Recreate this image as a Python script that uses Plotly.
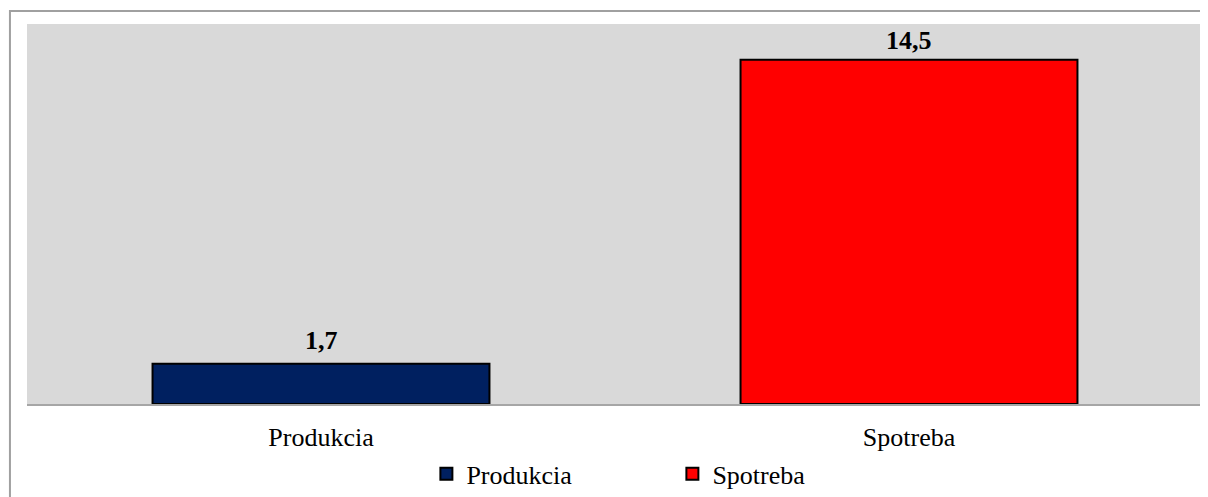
import plotly.graph_objects as go

categories = ["Produkcia", "Spotreba"]
values = [1.7, 14.5]
series_names = ["Produkcia", "Spotreba"]
colors = ["#002060", "#FF0000"]

FONT = "Liberation Serif, Times New Roman, serif"
label_shift = {"Produkcia": 7, "Spotreba": 3}

fig = go.Figure()
for cat, val, name, col in zip(categories, values, series_names, colors):
    fig.add_trace(go.Bar(
        x=[cat], y=[val], name=name,
        marker=dict(color=col, line=dict(color="black", width=2)),
        width=0.573,
        hoverinfo="skip",
    ))
    fig.add_annotation(
        x=cat, y=val, xref="x", yref="y",
        text="<b>" + f"{val:.1f}".replace(".", ",") + "</b>",
        showarrow=False, yanchor="bottom", yshift=label_shift[cat],
        font=dict(family=FONT, size=26, color="black"),
    )

fig.update_layout(
    width=1200, height=489,
    margin=dict(l=19, r=5, t=16, b=93, autoexpand=False),
    paper_bgcolor="white",
    plot_bgcolor="#D9D9D9",
    barmode="overlay",
    showlegend=True,
    legend=dict(
        orientation="h", x=0.5488, xanchor="center", y=-0.184, yanchor="middle",
        font=dict(family=FONT, size=26, color="black"),
        entrywidth=201,
        bgcolor="rgba(0,0,0,0)",
    ),
    font=dict(family=FONT, size=26, color="black"),
    xaxis=dict(
        showgrid=False, showline=True, linecolor="#A6A6A6", linewidth=2,
        ticks="outside", ticklen=9, tickcolor="rgba(0,0,0,0)",
        tickfont=dict(family=FONT, size=26, color="black"),
        fixedrange=True,
    ),
    yaxis=dict(
        range=[0, 16], showgrid=False, showticklabels=False, zeroline=False,
        showline=False, fixedrange=True,
    ),
    shapes=[dict(
        type="rect", xref="paper", yref="paper",
        x0=-0.0145, x1=1.1, y0=-0.5, y1=1.034,
        line=dict(color="#A0A0A0", width=2), fillcolor="rgba(0,0,0,0)",
        layer="below",
    )],
)

fig.write_html("out.html")
